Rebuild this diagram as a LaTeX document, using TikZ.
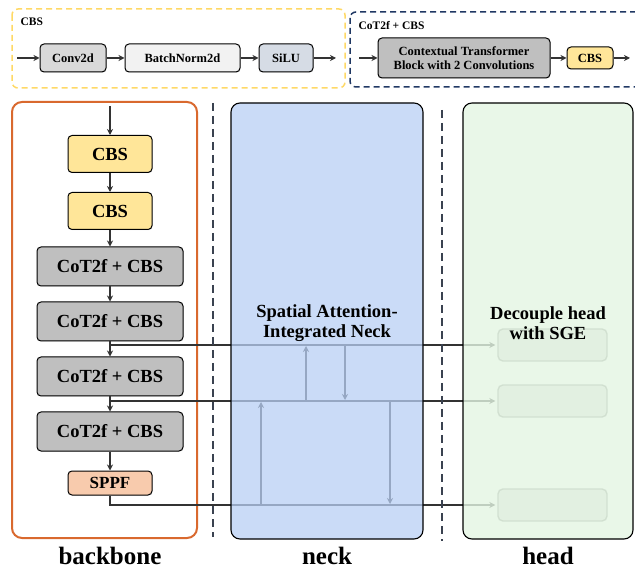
\documentclass[tikz,border=0pt]{standalone}
\usepackage{fontspec}
\setmainfont{Liberation Serif}
\usetikzlibrary{arrows.meta,shadows}
\definecolor{cbsyellow}{HTML}{FFE699}
\definecolor{cotgray}{HTML}{BFBFBF}
\definecolor{sppforange}{HTML}{F8CBAD}
\definecolor{convgray}{HTML}{D9D9D9}
\definecolor{bnwhite}{HTML}{F2F2F2}
\definecolor{silublue}{HTML}{D6DCE5}
\definecolor{framegold}{HTML}{FFD966}
\definecolor{framenavy}{HTML}{203864}
\definecolor{bbone}{HTML}{D9692E}
\definecolor{neckfill}{HTML}{B8CFF4}
\definecolor{headfill}{HTML}{E3F5E2}
\definecolor{sepgray}{HTML}{3A4250}
\definecolor{linkgray}{HTML}{333333}
\begin{document}
\begin{tikzpicture}[x=1pt,y=-1pt,
  blk/.style={draw=black, line width=1pt, rounded corners=4pt, align=center,
    font=\bfseries, inner sep=0pt,
    drop shadow={opacity=0.18, shadow xshift=0.7pt, shadow yshift=-0.7pt}},
  small/.style={font=\fontsize{12.5}{13.5}\selectfont\bfseries},
  big/.style={font=\fontsize{18.5}{20}\selectfont\bfseries},
  flow/.style={draw=linkgray, line width=1.4pt, -{Stealth[length=6pt,width=6pt]}},
  frame/.style={line width=1.5pt, rounded corners=6pt, dash pattern=on 6pt off 4pt},
  panel/.style={draw=black, line width=1.1pt, rounded corners=9pt},
  sep/.style={draw=sepgray, line width=2pt, dash pattern=on 8pt off 5pt},
  hbox/.style={draw=black!45, fill=black!12, line width=1.4pt, rounded corners=5pt,
    minimum width=109pt, minimum height=32pt},
  caption/.style={font=\fontsize{25}{27}\selectfont\bfseries, anchor=base}
]
\useasboundingbox (0,0) rectangle (635,569);

% ---- legend: CBS ----
\draw[frame, draw=framegold] (12,9) rectangle (345,88);
\node[anchor=west, font=\fontsize{11.5}{12}\selectfont\bfseries] (lcbs) at (17,22) {CBS};
\node[blk, small, fill=convgray, minimum width=66pt, minimum height=28pt] (conv) at (73,58) {Conv2d};
\node[blk, small, fill=bnwhite, minimum width=115pt, minimum height=28pt] (bn) at (182.5,58) {BatchNorm2d};
\node[blk, small, fill=silublue, minimum width=54pt, minimum height=28pt] (silu) at (286,58) {SiLU};
\coordinate (cin) at (17,58);
\coordinate (cout) at (336,58);
\draw[flow] (cin) -- (conv);
\draw[flow] (conv) -- (bn);
\draw[flow] (bn) -- (silu);
\draw[flow] (silu) -- (cout);

% ---- legend: CoT2f + CBS ----
\draw[frame, draw=framenavy] (350,12) rectangle (650,87);
\node[anchor=west, font=\fontsize{11.5}{12}\selectfont\bfseries] (lcot) at (355,26) {CoT2f + CBS};
\node[blk, fill=cotgray, minimum width=172pt, minimum height=40pt,
  font=\fontsize{12.5}{14}\selectfont\bfseries] (ctb) at (464,58) {Contextual Transformer\\Block with 2 Convolutions};
\node[blk, small, fill=cbsyellow, minimum width=46pt, minimum height=22pt] (lcbsbox) at (590,58) {CBS};
\coordinate (tin) at (359,58);
\coordinate (tout) at (630,58);
\draw[flow] (tin) -- (ctb);
\draw[flow] (ctb) -- (lcbsbox);
\draw[flow] (lcbsbox) -- (tout);

% ---- backbone ----
\draw[line width=2pt, draw=bbone, rounded corners=10pt] (12,102) rectangle (197,538);
\node[blk, big, fill=cbsyellow, minimum width=84pt, minimum height=37pt] (b1) at (110,154) {CBS};
\node[blk, big, fill=cbsyellow, minimum width=84pt, minimum height=37pt] (b2) at (110,211) {CBS};
\node[blk, big, fill=cotgray, minimum width=146pt, minimum height=39pt] (c1) at (110,266.5) {CoT2f + CBS};
\node[blk, big, fill=cotgray, minimum width=146pt, minimum height=39pt] (c2) at (110,321.5) {CoT2f + CBS};
\node[blk, big, fill=cotgray, minimum width=146pt, minimum height=39pt] (c3) at (110,376.5) {CoT2f + CBS};
\node[blk, big, fill=cotgray, minimum width=146pt, minimum height=39pt] (c4) at (110,431.5) {CoT2f + CBS};
\node[blk, fill=sppforange, minimum width=84pt, minimum height=24pt,
  font=\fontsize{17}{18}\selectfont\bfseries] (sppf) at (110,483) {SPPF};
\coordinate (bin) at (110,106);
\draw[flow] (bin) -- (b1);
\draw[flow] (b1) -- (b2);
\draw[flow] (b2) -- (c1);
\draw[flow] (c1) -- (c2);
\draw[flow] (c2) -- (c3);
\draw[flow] (c3) -- (c4);
\draw[flow] (c4) -- (sppf);

% ---- head outputs (seen through the panels) ----
\node[hbox] (h1) at (552.5,345) {};
\node[hbox] (h2) at (552.5,401) {};
\node[hbox] (h3) at (552.5,505) {};

% feature taps from the backbone
\coordinate (t1) at (110,345);
\coordinate (t2) at (110,401);
\draw[flow, shorten >=2pt] (t1) -- (h1.west);
\draw[flow, shorten >=2pt] (t2) -- (h2.west);
\draw[flow, shorten >=2pt] (sppf.south) |- (h3.west);

% neck fusion paths
\coordinate (u1a) at (306,401); \coordinate (u1b) at (306,346);
\coordinate (d1a) at (345,345); \coordinate (d1b) at (345,400);
\coordinate (u2a) at (261,505); \coordinate (u2b) at (261,402);
\coordinate (d2a) at (390,401); \coordinate (d2b) at (390,504);
\draw[flow] (u1a) -- (u1b);
\draw[flow] (d1a) -- (d1b);
\draw[flow] (u2a) -- (u2b);
\draw[flow] (d2a) -- (d2b);

% ---- neck and head panels ----
\draw[panel, fill=neckfill, fill opacity=0.75] (231,103) rectangle (423,539);
\draw[panel, fill=headfill, fill opacity=0.8] (463,103) rectangle (633,539);

% separators
\draw[sep] (213,103) -- (213,537);
\draw[sep] (442,110) -- (442,541);

% ---- labels ----
\node[big, align=center] (necklbl) at (327,323) {Spatial Attention-\\Integrated Neck};
\node[big, align=center] (headlbl) at (548,323) {Decouple head\\with SGE};
\node[caption] (capb) at (110,564) {backbone};
\node[caption] (capn) at (327,564) {neck};
\node[caption] (caph) at (548,564) {head};
\end{tikzpicture}
\end{document}
